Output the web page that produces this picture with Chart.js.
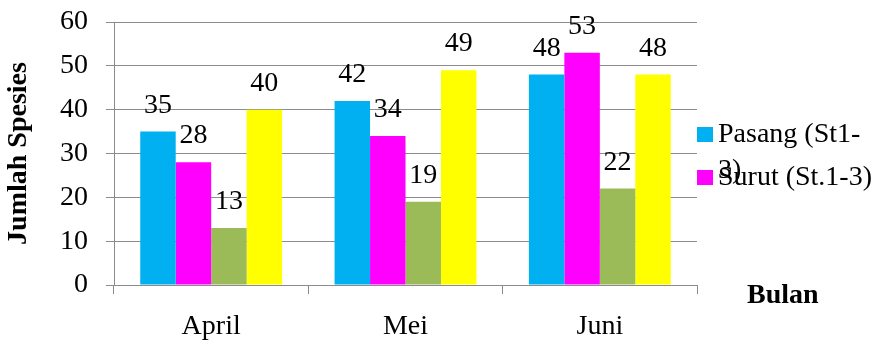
<!DOCTYPE html>
<html>
<head>
<meta charset="utf-8">
<script src="https://cdn.jsdelivr.net/npm/chart.js@4"></script>
<style>
  html, body { margin: 0; padding: 0; background: #fff; }
</style>
</head>
<body>
<canvas id="speciesChart" width="885" height="341"></canvas>
<script>
// Jumlah spesies per bulan
const months = ['April', 'Mei', 'Juni'];
const pasang = [35, 42, 48];
const surut = [28, 34, 53];
const series3 = [13, 19, 22];
const series4 = [40, 49, 48];
const seriesLabels = ['Pasang (St1-3)', 'Surut (St.1-3)', '', ''];
const seriesColors = ['#00b0f0', '#ff00ff', '#9bbb59', '#ffff00'];
const yMin = 0, yMax = 60, yStep = 10;

const serif = '"Liberation Serif", "Times New Roman", serif';
const gridColor = '#8c8c8c';

const datasets = [pasang, surut, series3, series4].map((vals, i) => ({
    label: seriesLabels[i],
    data: vals,
    backgroundColor: seriesColors[i],
    borderWidth: 0,
    barPercentage: 1,
    categoryPercentage: 0.73
}));

// value above every bar
const valueLabels = {
    id: 'valueLabels',
    afterDatasetsDraw(chart) {
        const ctx = chart.ctx;
        ctx.save();
        ctx.font = '28px ' + serif;
        ctx.fillStyle = '#000';
        ctx.textAlign = 'center';
        ctx.textBaseline = 'alphabetic';
        chart.data.datasets.forEach((ds, i) => {
            chart.getDatasetMeta(i).data.forEach((bar, j) => {
                ctx.fillText(String(ds.data[j]), bar.x, bar.y - 19);
            });
        });
        ctx.restore();
    }
};

// legend on the right plus the "Bulan" axis name
const sideText = {
    id: 'sideText',
    afterDraw(chart) {
        const ctx = chart.ctx;
        ctx.save();
        ctx.fillStyle = '#000';
        ctx.textAlign = 'left';
        ctx.textBaseline = 'alphabetic';

        ctx.font = 'bold 28px ' + serif;
        ctx.fillText('Bulan', 747, 303);

        ctx.font = '28px ' + serif;
        const textX = 718;
        const maxTextWidth = 160;
        let baseY = 142;
        chart.data.datasets.forEach(ds => {
            if (!ds.label) return;
            ctx.fillStyle = ds.backgroundColor;
            ctx.fillRect(697, baseY - 15, 16, 15);
            ctx.fillStyle = '#000';
            const text = ds.label;
            if (ctx.measureText(text).width > maxTextWidth && text.lastIndexOf('-') > 0) {
                const cut = text.lastIndexOf('-') + 1;
                ctx.fillText(text.slice(0, cut), textX, baseY);
                ctx.fillText(text.slice(cut), textX, baseY + 36);
            } else {
                ctx.fillText(text, textX, baseY);
            }
            baseY += 43;
        });
        ctx.restore();
    }
};

new Chart(document.getElementById('speciesChart'), {
    type: 'bar',
    data: { labels: months, datasets: datasets },
    options: {
        responsive: false,
        animation: false,
        layout: { padding: { top: 22, right: 188, bottom: 0, left: 0 } },
        plugins: {
            legend: { display: false },
            tooltip: { enabled: false }
        },
        scales: {
            x: {
                afterFit: s => { s.height = 56; },
                grid: { offset: true, drawOnChartArea: false, drawTicks: true, tickLength: 9, color: gridColor },
                border: { color: gridColor },
                ticks: { color: '#000', padding: 16, font: { family: serif, size: 28 } }
            },
            y: {
                min: yMin,
                max: yMax,
                afterFit: s => { s.width = 114; s.paddingTop = 0; s.paddingBottom = 0; },
                grid: { color: gridColor, tickLength: 8 },
                border: { color: gridColor },
                ticks: { stepSize: yStep, color: '#000', padding: 18, font: { family: serif, size: 28 } },
                title: {
                    display: true,
                    text: 'Jumlah Spesies',
                    color: '#000',
                    padding: { top: 2, bottom: 0 },
                    font: { family: serif, size: 28, weight: 'bold' }
                }
            }
        }
    },
    plugins: [valueLabels, sideText]
});
</script>
</body>
</html>
